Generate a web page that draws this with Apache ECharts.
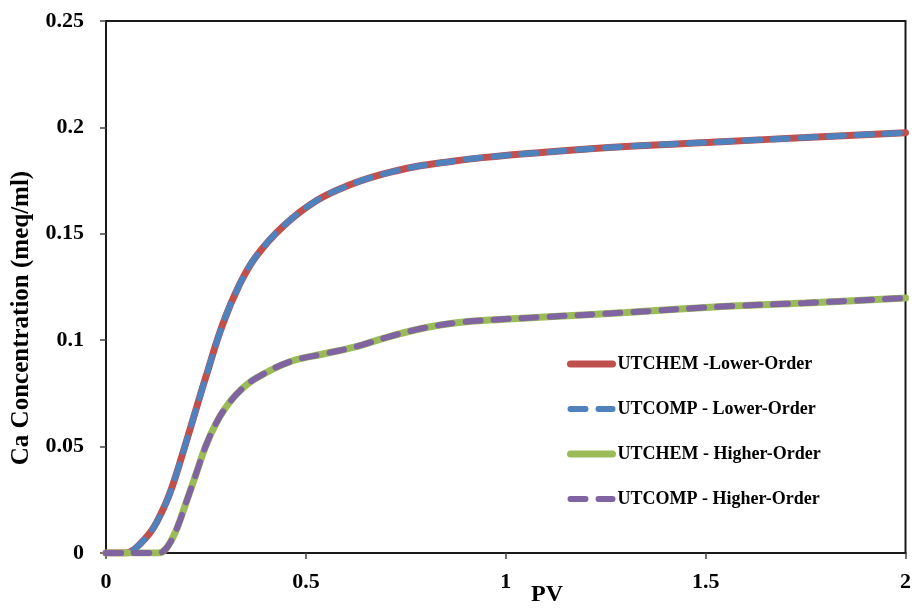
<!DOCTYPE html>
<html>
<head>
<meta charset="utf-8">
<script src="https://cdn.jsdelivr.net/npm/echarts@6/dist/echarts.min.js"></script>
<style>html,body{margin:0;padding:0;background:#fff}#c{width:914px;height:609px}</style>
</head>
<body>
<div id="c"></div>
<script>
// Series names
const seriesNames = ["UTCHEM -Lower-Order", "UTCOMP - Lower-Order", "UTCHEM - Higher-Order", "UTCOMP - Higher-Order"];
// Lower-order curve (PV, Ca concentration)
const lowerPV = [0, 0.05, 0.067, 0.085, 0.11, 0.127, 0.15, 0.168, 0.193, 0.21, 0.251, 0.292, 0.335, 0.376, 0.443, 0.526, 0.609, 0.692, 0.776, 0.859, 0.942, 1.09, 1.3, 1.54, 1.75, 2.0];
const lowerCa = [0, 0, 0.0012, 0.0042, 0.0095, 0.0145, 0.0235, 0.0325, 0.0475, 0.058, 0.0835, 0.1075, 0.1265, 0.1395, 0.1535, 0.1655, 0.1729, 0.178, 0.1816, 0.1839, 0.1858, 0.1882, 0.191, 0.1933, 0.1952, 0.1975];
// Higher-order curve
const higherPV = [0, 0.13, 0.15, 0.175, 0.2, 0.225, 0.25, 0.275, 0.3, 0.335, 0.376, 0.46, 0.543, 0.626, 0.709, 0.792, 0.876, 0.959, 1.084, 1.3, 1.54, 1.75, 2.0];
const higherCa = [0, 0, 0.002, 0.0105, 0.0235, 0.037, 0.0505, 0.0608, 0.0685, 0.0762, 0.0822, 0.0899, 0.0935, 0.097, 0.1017, 0.1056, 0.1082, 0.1095, 0.1108, 0.113, 0.1158, 0.1175, 0.1198];
// Axis ticks
const xTicks = [0, 0.5, 1, 1.5, 2];
const yTicks = [0, 0.05, 0.1, 0.15, 0.2, 0.25];

const pair = (xs, ys) => xs.map((x, i) => [x, ys[i]]);
const font = '"Liberation Serif", "Times New Roman", serif';
const colors = ['#C0504D', '#4F81BD', '#9BBB59', '#8064A2'];
const solid = c => ({color: c, width: 7, type: 'solid', cap: 'round'});
const dashed = c => ({color: c, width: 6, type: [15, 13], cap: 'round'});
const styles = [solid(colors[0]), dashed(colors[1]), solid(colors[2]), dashed(colors[3])];

const chart = echarts.init(document.getElementById('c'), null, {renderer: 'canvas'});
chart.setOption({
  animation: false,
  backgroundColor: '#fff',
  grid: {left: 106, right: 7, top: 21, bottom: 56, show: true, borderColor: '#1a1a1a', borderWidth: 2},
  xAxis: {
    type: 'value', min: xTicks[0], max: xTicks[xTicks.length - 1], interval: 0.5,
    axisLine: {show: true, lineStyle: {color: '#1a1a1a', width: 2}},
    axisTick: {show: true, inside: false, length: 6, lineStyle: {color: '#444', width: 1.5}},
    splitLine: {show: false},
    axisLabel: {color: '#000', fontFamily: font, fontWeight: 'bold', fontSize: 22, margin: 18,
      formatter: v => String(v)}
  },
  yAxis: {
    type: 'value', min: yTicks[0], max: yTicks[yTicks.length - 1], interval: 0.05,
    axisLine: {show: true, lineStyle: {color: '#1a1a1a', width: 2}},
    axisTick: {show: true, inside: false, length: 6, lineStyle: {color: '#444', width: 1.5}},
    splitLine: {show: false},
    axisLabel: {color: '#000', fontFamily: font, fontWeight: 'bold', fontSize: 22, margin: 22,
      formatter: v => String(+v.toFixed(2))}
  },
  legend: {
    orient: 'vertical', left: 562, top: 349, itemGap: 25, itemWidth: 42, itemHeight: 14,
    itemStyle: {opacity: 0},
    textStyle: {color: '#000', fontFamily: font, fontWeight: 'bold', fontSize: 18, lineHeight: 20},
    data: seriesNames.map((n, i) => ({name: n, lineStyle: styles[i], itemStyle: {opacity: 0}}))
  },
  graphic: [
    {type: 'text', x: 22, y: 318, rotation: Math.PI / 2,
      style: {text: 'Ca Concentration (meq/ml)', fill: '#000', font: 'bold 25px ' + font, textAlign: 'center', textVerticalAlign: 'middle'}},
    {type: 'text', x: 547, y: 595,
      style: {text: 'PV', fill: '#000', font: 'bold 24px ' + font, textAlign: 'center', textVerticalAlign: 'middle'}}
  ],
  series: seriesNames.map((n, i) => ({
    name: n, type: 'line', data: i < 2 ? pair(lowerPV, lowerCa) : pair(higherPV, higherCa),
    smooth: 0.4, showSymbol: false, symbol: 'none', color: colors[i],
    lineStyle: styles[i], z: i % 2 === 0 ? 2 : 3
  }))
});
</script>
</body>
</html>
